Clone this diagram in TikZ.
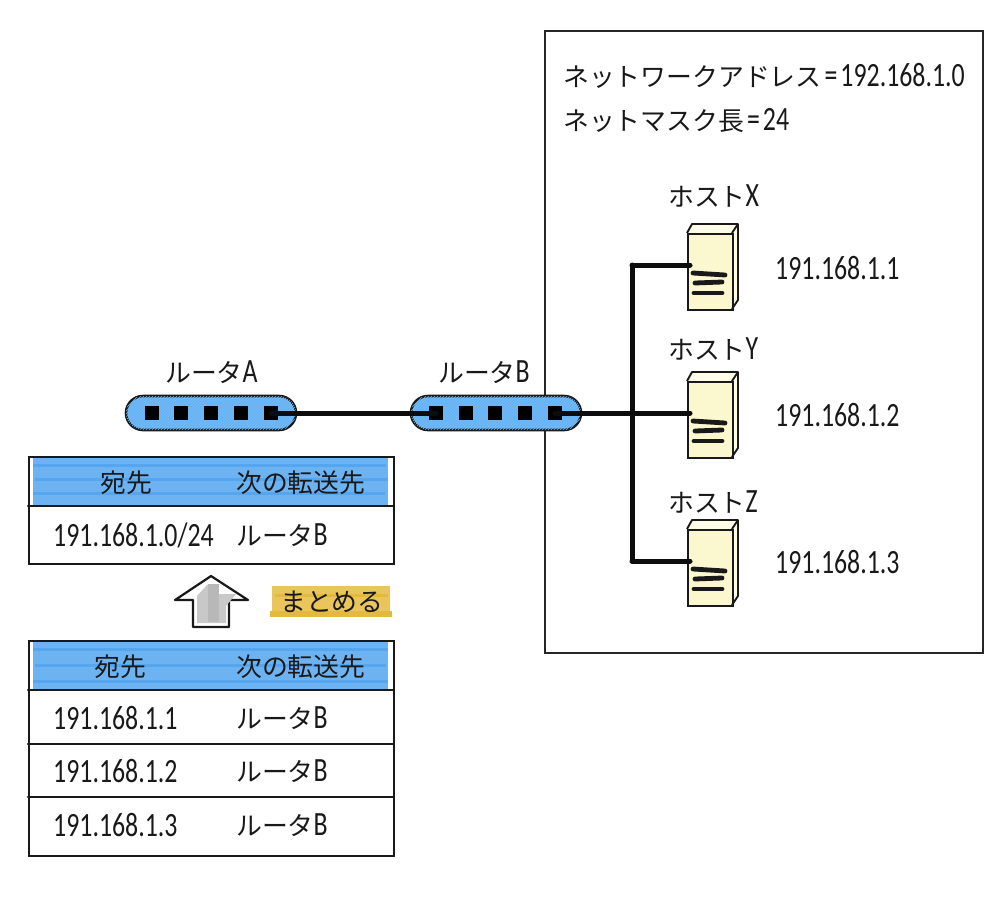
\documentclass[tikz,border=0pt]{standalone}
\usepackage{fontspec}
\setmainfont{Carlito}[FakeStretch=0.76]
\newfontfamily\jp{Noto Sans CJK JP}[Scale=0.76]
\usetikzlibrary{patterns}
\definecolor{hdrblue}{HTML}{6DB3F2}
\definecolor{hdrdark}{HTML}{55A6EF}
\definecolor{routerblue}{HTML}{64B2F4}
\definecolor{hatchblue}{HTML}{7CBDF5}
\definecolor{tagyellow}{HTML}{EAC55C}
\definecolor{tagdark}{HTML}{E3B93F}
\definecolor{hostcream}{HTML}{FBF7CF}
\definecolor{hostside}{HTML}{FFFDE8}
\definecolor{arrowgray}{HTML}{C8C8C8}
\definecolor{arrowdark}{HTML}{B8B8B8}
\tikzset{
  x=1pt,y=-1pt,
  txt/.style={anchor=west,inner sep=0pt,font=\fontsize{34}{36}\selectfont,text=black!90},
  routerbox/.style={draw=black!90,line width=2.6pt,fill=routerblue,rounded corners=17pt,minimum width=170pt,minimum height=34pt,inner sep=0pt,
    postaction={pattern=north east lines,pattern color=hatchblue}},
  portbox/.style={fill=black,minimum size=14pt,inner sep=0pt},
  wire/.style={line width=5pt,line cap=round,draw=black!95},
  rule/.style={line width=2.3pt,draw=black!90,line cap=round},
  hostedge/.style={line width=1.9pt,draw=black!90,line join=round},
  hostbar/.style={line width=4.8pt,line cap=round,draw=black!90},
  hdr/.style={fill=hdrblue},
  hdrstreak/.style={fill=hdrdark},
}
\newcommand{\hostshape}[2]{% name, y offset
  \begin{scope}[yshift=#2pt*-1]
    \path[fill=hostside] (687,233) -- (692,224) -- (738,224) -- (738,300) -- (732,309) -- cycle;
    \node[draw=black!90,line width=1.9pt,fill=hostcream,minimum width=45pt,minimum height=76pt,inner sep=0pt,anchor=north west] (#1) at (687,233) {};
    \draw[hostedge] (687,233) -- (692,224) -- (738,224) -- (738,300) -- (732,309);
    \draw[hostedge] (732,233) -- (738,224);
    \draw[hostbar] (693,273) -- (725,275);
    \draw[hostbar] (695,283) -- (722,282);
    \draw[hostbar] (694,293) -- (722,293);
  \end{scope}
}
\begin{document}
\begin{tikzpicture}
\useasboundingbox (0,0) rectangle (1000,900);
% network frame
\node[draw=black!85,line width=1.9pt,minimum width=438pt,minimum height=622pt,inner sep=0pt,anchor=north west] (net) at (544,30) {};
\node[txt] (addr) at (563,76) {{\jp ネットワークアドレス}\kern3pt=\kern3pt192.168.1.0};
\node[txt] (mask) at (563,121) {{\jp ネットマスク長}\kern3pt=\kern3pt24};

% hosts
\hostshape{hostx}{0}
\hostshape{hosty}{148}
\hostshape{hostz}{296}
\node[txt] (lx) at (668,196) {{\jp ホスト}X};
\node[txt] (ly) at (668,349) {{\jp ホスト}Y};
\node[txt] (lz) at (668,502) {{\jp ホスト}Z};
\node[txt] (ipx) at (775,268) {191.168.1.1};
\node[txt] (ipy) at (775,415) {191.168.1.2};
\node[txt] (ipz) at (775,562) {191.168.1.3};

% routers
\node[routerbox] (ra) at (211,413) {};
\node[routerbox] (rb) at (496,413) {};
\foreach \n/\x in {a1/152,a2/181,a3/211,a4/241,a5/271}{\node[portbox] (\n) at (\x,413) {};}
\foreach \n/\x in {b1/436,b2/466,b3/495,b4/525,b5/555}{\node[portbox] (\n) at (\x,413) {};}
\node[txt] (la) at (165,372) {{\jp ルータ}A};
\node[txt] (lb) at (438,372) {{\jp ルータ}B};

% connectors
\coordinate (bustop) at (632,265);
\coordinate (busbot) at (632,561);
\coordinate (hxp) at (690,265);
\coordinate (hyp) at (690,413);
\coordinate (hzp) at (690,561);
\draw[wire] (a5.center) -- (b1.center);
\draw[wire] (b5.center) -- (hyp);
\draw[wire] (bustop) -- (busbot);
\draw[wire] (bustop) -- (hxp);
\draw[wire] (busbot) -- (hzp);

% upper table
\path[hdr] (33,458) rectangle (388,505);
\path[hdrstreak] (33,464) rectangle (386,467);
\path[hdrstreak] (35,478) rectangle (388,481);
\path[hdrstreak] (33,492) rectangle (385,495);
\node[draw=black!90,line width=2.3pt,minimum width=365pt,minimum height=107pt,inner sep=0pt,anchor=north west] (t1) at (28,456) {};
\coordinate (t1l) at (28,506); \coordinate (t1r) at (393,506);
\draw[rule] (t1l) -- (t1r);
\node[txt] (t1a) at (100,483) {\jp 宛先};
\node[txt] (t1b) at (236,483) {\jp 次の転送先};
\node[txt] (t1c) at (53,535) {191.168.1.0/24};
\node[txt] (t1d) at (236,535) {{\jp ルータ}B};

% arrow
\path[fill=white,draw=black!90,line width=2.2pt,line join=round] (211,576) -- (248,600) -- (229,600) -- (229,627) -- (193,627) -- (193,600) -- (175,600) -- cycle;
\path[fill=arrowgray] (197,596) -- (208,584) -- (218,590) -- (218,594) -- (236,594) -- (226,606) -- (226,623) -- (197,623) -- cycle;
\path[fill=arrowdark] (208,584) rectangle (219,622);

% tag
\path[fill=tagyellow] (272,586) rectangle (390,617);
\path[fill=tagdark] (270,611) rectangle (392,617);
\path[fill=tagdark] (275,594) rectangle (388,597);
\node[txt] (tag) at (280,602) {\jp まとめる};

% lower table
\path[hdr] (33,642) rectangle (388,690);
\path[hdrstreak] (33,648) rectangle (388,651);
\path[hdrstreak] (35,664) rectangle (386,667);
\path[hdrstreak] (33,680) rectangle (388,683);
\node[draw=black!90,line width=2.3pt,minimum width=365pt,minimum height=215pt,inner sep=0pt,anchor=north west] (t2) at (28,640) {};
\foreach \n/\y in {p/690,q/744,r/797}{
  \coordinate (t2l\n) at (28,\y); \coordinate (t2r\n) at (393,\y);
  \draw[rule] (t2l\n) -- (t2r\n);
}
\node[txt] (t2a) at (94,667) {\jp 宛先};
\node[txt] (t2b) at (236,667) {\jp 次の転送先};
\node[txt] (r1a) at (53,718) {191.168.1.1};
\node[txt] (r1b) at (236,718) {{\jp ルータ}B};
\node[txt] (r2a) at (53,771) {191.168.1.2};
\node[txt] (r2b) at (236,771) {{\jp ルータ}B};
\node[txt] (r3a) at (53,825) {191.168.1.3};
\node[txt] (r3b) at (236,825) {{\jp ルータ}B};
\end{tikzpicture}
\end{document}
